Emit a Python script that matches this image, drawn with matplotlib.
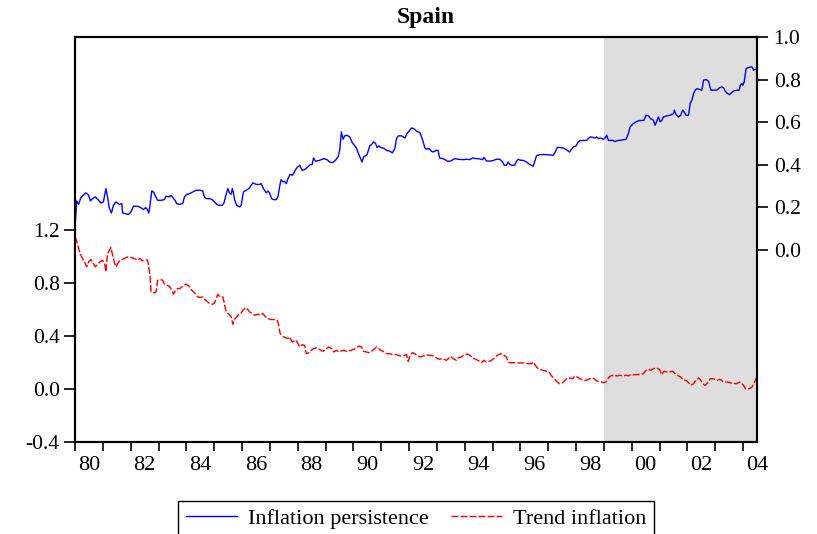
import numpy as np
import matplotlib
matplotlib.use('Agg')
import matplotlib.pyplot as plt

plt.rcParams['font.family'] = ['Liberation Serif', 'DejaVu Serif']
plt.rcParams['axes.unicode_minus'] = False

# inflation persistence (right axis), decimal years
persist_t = [1980.01, 1980.06, 1980.13, 1980.21, 1980.39, 1980.49, 1980.55, 1980.63, 1980.73, 1980.85, 1980.93,
             1981.02, 1981.11, 1981.17, 1981.23, 1981.31, 1981.38, 1981.47, 1981.59, 1981.68, 1981.71, 1981.81, 1981.92,
             1982.01, 1982.10, 1982.25, 1982.37, 1982.46, 1982.53, 1982.58, 1982.65, 1982.67, 1982.76, 1982.82, 1982.89, 1982.97,
             1983.09, 1983.21, 1983.27, 1983.39, 1983.45, 1983.51, 1983.61, 1983.65, 1983.75, 1983.87, 1983.93,
             1984.02, 1984.11, 1984.23, 1984.35, 1984.50, 1984.59, 1984.65, 1984.71, 1984.83, 1984.93,
             1985.01, 1985.09, 1985.17, 1985.29, 1985.35, 1985.43, 1985.49, 1985.55, 1985.61, 1985.65, 1985.69, 1985.74, 1985.81, 1985.91, 1985.97,
             1986.05, 1986.15, 1986.25, 1986.33, 1986.39, 1986.51, 1986.61, 1986.69, 1986.77, 1986.87, 1986.93, 1986.99,
             1987.06, 1987.13, 1987.23, 1987.29, 1987.35, 1987.40, 1987.47, 1987.53, 1987.59, 1987.65, 1987.73, 1987.81, 1987.85, 1987.91, 1987.98,
             1988.07, 1988.16, 1988.25, 1988.37, 1988.45, 1988.52, 1988.57, 1988.64, 1988.79, 1988.93,
             1989.05, 1989.15, 1989.24, 1989.33, 1989.45, 1989.51, 1989.57, 1989.63, 1989.69, 1989.77, 1989.87, 1989.96,
             1990.11, 1990.17, 1990.25, 1990.31, 1990.37, 1990.49, 1990.59, 1990.65, 1990.73, 1990.80, 1990.85, 1990.92, 1990.98,
             1991.07, 1991.19, 1991.31, 1991.40, 1991.49, 1991.55, 1991.61, 1991.73, 1991.85, 1991.93,
             1992.00, 1992.09, 1992.17, 1992.27, 1992.39, 1992.48, 1992.57, 1992.62, 1992.72, 1992.80, 1992.86, 1992.98,
             1993.04, 1993.10, 1993.20, 1993.28, 1993.37, 1993.49, 1993.64, 1993.76, 1993.94,
             1994.06, 1994.18, 1994.28, 1994.42, 1994.54, 1994.64, 1994.69, 1994.78, 1994.90,
             1995.02, 1995.14, 1995.26, 1995.36, 1995.42, 1995.50, 1995.56, 1995.62, 1995.68, 1995.80, 1995.86, 1995.92,
             1996.01, 1996.10, 1996.22, 1996.34, 1996.46, 1996.58, 1996.70, 1996.88,
             1997.18, 1997.24, 1997.33, 1997.42, 1997.54, 1997.66, 1997.76, 1997.84, 1997.90,
             1998.00, 1998.08, 1998.14, 1998.26, 1998.38, 1998.50, 1998.60, 1998.68, 1998.74, 1998.80, 1998.88, 1998.98,
             1999.04, 1999.10, 1999.16, 1999.22, 1999.32, 1999.40, 1999.48, 1999.58, 1999.70, 1999.80, 1999.88, 1999.94,
             2000.06, 2000.15, 2000.27, 2000.44, 2000.51, 2000.60, 2000.68, 2000.78, 2000.84, 2000.90, 2000.96,
             2001.02, 2001.08, 2001.14, 2001.26, 2001.38, 2001.50, 2001.53, 2001.59, 2001.68, 2001.76, 2001.83, 2001.88, 2001.95,
             2002.04, 2002.10, 2002.16, 2002.22, 2002.28, 2002.34, 2002.52, 2002.58, 2002.67, 2002.76, 2002.84, 2002.94,
             2003.06, 2003.15, 2003.24, 2003.30, 2003.36, 2003.44, 2003.51, 2003.60, 2003.66, 2003.78, 2003.86, 2003.90, 2003.96, 2003.99,
             2004.04, 2004.11, 2004.26, 2004.32, 2004.38, 2004.44, 2004.50]
persist_v = [0.122, 0.229, 0.213, 0.245, 0.267, 0.256, 0.229, 0.240, 0.248, 0.232, 0.219,
             0.224, 0.287, 0.248, 0.197, 0.172, 0.208, 0.224, 0.213, 0.216, 0.172, 0.169, 0.165,
             0.177, 0.204, 0.204, 0.197, 0.188, 0.197, 0.193, 0.172, 0.185, 0.276, 0.271, 0.251, 0.232,
             0.232, 0.235, 0.251, 0.248, 0.256, 0.245, 0.229, 0.216, 0.213, 0.216, 0.248,
             0.260, 0.263, 0.271, 0.279, 0.279, 0.276, 0.248, 0.240, 0.240, 0.235,
             0.224, 0.213, 0.208, 0.208, 0.219, 0.260, 0.287, 0.267, 0.260, 0.287, 0.267, 0.232, 0.208, 0.201, 0.208,
             0.271, 0.279, 0.287, 0.303, 0.314, 0.307, 0.306, 0.310, 0.287, 0.267, 0.276, 0.267,
             0.240, 0.235, 0.235, 0.248, 0.295, 0.329, 0.318, 0.321, 0.310, 0.334, 0.354, 0.350, 0.357, 0.373, 0.386,
             0.397, 0.373, 0.376, 0.389, 0.400, 0.400, 0.431, 0.416, 0.420, 0.428,
             0.423, 0.412, 0.409, 0.416, 0.436, 0.467, 0.554, 0.519, 0.535, 0.538, 0.530, 0.503,
             0.478, 0.456, 0.431, 0.412, 0.436, 0.447, 0.488, 0.494, 0.507, 0.499, 0.480, 0.488, 0.480,
             0.478, 0.467, 0.463, 0.455, 0.475, 0.522, 0.535, 0.535, 0.525, 0.546,
             0.557, 0.572, 0.569, 0.557, 0.550, 0.519, 0.478, 0.472, 0.475, 0.463, 0.459, 0.467,
             0.467, 0.431, 0.428, 0.425, 0.416, 0.416, 0.428, 0.425, 0.423,
             0.425, 0.423, 0.431, 0.428, 0.427, 0.423, 0.434, 0.417, 0.416,
             0.419, 0.425, 0.425, 0.412, 0.397, 0.397, 0.412, 0.400, 0.397, 0.397, 0.416, 0.425,
             0.420, 0.420, 0.412, 0.400, 0.392, 0.441, 0.447, 0.447,
             0.444, 0.456, 0.481, 0.480, 0.478, 0.469, 0.459, 0.472, 0.483,
             0.488, 0.507, 0.513, 0.513, 0.514, 0.530, 0.528, 0.525, 0.530, 0.522, 0.525, 0.519,
             0.525, 0.538, 0.514, 0.513, 0.514, 0.508, 0.513, 0.514, 0.517, 0.519, 0.546, 0.577,
             0.593, 0.601, 0.607, 0.608, 0.632, 0.629, 0.616, 0.608, 0.585, 0.604, 0.624,
             0.601, 0.608, 0.624, 0.629, 0.632, 0.640, 0.656, 0.635, 0.624, 0.632, 0.656, 0.648, 0.632,
             0.632, 0.687, 0.703, 0.734, 0.750, 0.757, 0.750, 0.797, 0.800, 0.792, 0.750, 0.750,
             0.750, 0.761, 0.765, 0.761, 0.745, 0.734, 0.729, 0.739, 0.746, 0.750, 0.750, 0.773, 0.781, 0.773,
             0.789, 0.852, 0.859, 0.859, 0.844, 0.848, 0.848]

# trend inflation (left axis)
trend_t = [1980.01, 1980.09, 1980.18, 1980.27, 1980.37, 1980.42, 1980.49, 1980.57, 1980.66, 1980.73, 1980.81, 1980.90, 1980.99,
           1981.07, 1981.11, 1981.17, 1981.23, 1981.29, 1981.35, 1981.41, 1981.47, 1981.57, 1981.65, 1981.77, 1981.89,
           1982.01, 1982.13, 1982.25, 1982.34, 1982.41, 1982.49, 1982.61, 1982.65, 1982.70, 1982.73, 1982.85, 1982.91, 1982.97,
           1983.06, 1983.15, 1983.21, 1983.30, 1983.39, 1983.45, 1983.54, 1983.61, 1983.69, 1983.77, 1983.87, 1983.99,
           1984.09, 1984.17, 1984.26, 1984.33, 1984.41, 1984.50, 1984.59, 1984.69, 1984.77, 1984.85, 1984.95,
           1985.01, 1985.07, 1985.13, 1985.21, 1985.31, 1985.37, 1985.43, 1985.53, 1985.61, 1985.67, 1985.73, 1985.81, 1985.89, 1985.97,
           1986.03, 1986.13, 1986.21, 1986.27, 1986.37, 1986.45, 1986.57, 1986.65, 1986.75, 1986.85, 1986.93,
           1987.05, 1987.17, 1987.25, 1987.29, 1987.37, 1987.47, 1987.56, 1987.65, 1987.71, 1987.80, 1987.95,
           1988.07, 1988.16, 1988.25, 1988.31, 1988.40, 1988.49, 1988.57, 1988.67, 1988.79, 1988.91,
           1989.03, 1989.12, 1989.21, 1989.29, 1989.39, 1989.48, 1989.57, 1989.65, 1989.75, 1989.87, 1989.99,
           1990.11, 1990.20, 1990.29, 1990.37, 1990.47, 1990.56, 1990.65, 1990.77, 1990.83, 1990.92, 1990.97,
           1991.07, 1991.19, 1991.31, 1991.43, 1991.55, 1991.67, 1991.79, 1991.91, 1991.97,
           1992.03, 1992.12, 1992.21, 1992.29, 1992.39, 1992.51, 1992.62, 1992.74, 1992.87, 1992.98,
           1993.10, 1993.20, 1993.34, 1993.44, 1993.49, 1993.58, 1993.70, 1993.76, 1993.88,
           1994.00, 1994.09, 1994.18, 1994.30, 1994.42, 1994.54, 1994.60, 1994.69, 1994.78, 1994.88, 1994.96,
           1995.05, 1995.14, 1995.24, 1995.32, 1995.38, 1995.44, 1995.50, 1995.56, 1995.62, 1995.74, 1995.86, 1995.98,
           1996.10, 1996.22, 1996.34, 1996.40, 1996.46, 1996.52, 1996.61, 1996.70, 1996.82, 1996.94,
           1997.04, 1997.12, 1997.20, 1997.30, 1997.40, 1997.52, 1997.60, 1997.68, 1997.78, 1997.88, 1997.96,
           1998.04, 1998.14, 1998.24, 1998.36, 1998.50, 1998.60, 1998.68, 1998.76, 1998.86, 1998.98,
           1999.08, 1999.16, 1999.24, 1999.36, 1999.48, 1999.58, 1999.70, 1999.80, 1999.88, 1999.96,
           2000.06, 2000.18, 2000.30, 2000.42, 2000.51, 2000.60, 2000.68, 2000.78, 2000.90, 2000.99,
           2001.08, 2001.16, 2001.26, 2001.35, 2001.47, 2001.56, 2001.68, 2001.76, 2001.86, 2001.95,
           2002.04, 2002.12, 2002.22, 2002.31, 2002.40, 2002.46, 2002.55, 2002.64, 2002.72, 2002.82, 2002.94,
           2003.06, 2003.18, 2003.27, 2003.36, 2003.44, 2003.54, 2003.66, 2003.78, 2003.87, 2003.96,
           2004.02, 2004.08, 2004.14, 2004.23, 2004.32, 2004.38, 2004.44, 2004.50]
trend_v = [1.150, 1.094, 1.024, 0.986, 0.948, 0.923, 0.961, 0.978, 0.948, 0.923, 0.943, 0.961, 0.973,
           0.943, 0.885, 1.024, 1.044, 1.069, 1.011, 0.961, 0.923, 0.961, 0.973, 0.986, 0.998,
           0.993, 0.986, 0.973, 0.986, 0.968, 0.978, 0.973, 0.923, 0.847, 0.734, 0.726, 0.734, 0.822,
           0.827, 0.822, 0.792, 0.784, 0.777, 0.759, 0.716, 0.746, 0.759, 0.759, 0.777, 0.792,
           0.779, 0.751, 0.734, 0.716, 0.696, 0.691, 0.696, 0.671, 0.658, 0.645, 0.640,
           0.650, 0.683, 0.716, 0.696, 0.696, 0.645, 0.582, 0.565, 0.545, 0.489, 0.527, 0.545, 0.565, 0.575,
           0.595, 0.615, 0.600, 0.582, 0.570, 0.557, 0.565, 0.557, 0.570, 0.545, 0.532,
           0.525, 0.525, 0.525, 0.507, 0.419, 0.398, 0.388, 0.381, 0.393, 0.356, 0.368,
           0.318, 0.335, 0.330, 0.267, 0.275, 0.293, 0.305, 0.310, 0.298, 0.285,
           0.305, 0.318, 0.305, 0.280, 0.293, 0.280, 0.288, 0.293, 0.285, 0.290, 0.298,
           0.310, 0.325, 0.318, 0.285, 0.280, 0.275, 0.285, 0.305, 0.318, 0.305, 0.293,
           0.285, 0.267, 0.267, 0.260, 0.260, 0.250, 0.250, 0.260, 0.209,
           0.250, 0.275, 0.267, 0.255, 0.242, 0.250, 0.255, 0.255, 0.250, 0.235,
           0.225, 0.230, 0.217, 0.235, 0.247, 0.230, 0.217, 0.235, 0.242,
           0.260, 0.265, 0.255, 0.235, 0.222, 0.209, 0.199, 0.217, 0.204, 0.209, 0.217,
           0.230, 0.250, 0.262, 0.267, 0.260, 0.250, 0.242, 0.204, 0.199, 0.199, 0.199, 0.197,
           0.197, 0.192, 0.192, 0.192, 0.204, 0.184, 0.159, 0.149, 0.141, 0.134,
           0.124, 0.099, 0.083, 0.058, 0.041, 0.048, 0.066, 0.083, 0.083, 0.078, 0.099,
           0.091, 0.078, 0.066, 0.066, 0.078, 0.083, 0.073, 0.058, 0.058, 0.048,
           0.053, 0.083, 0.099, 0.104, 0.099, 0.104, 0.099, 0.104, 0.099, 0.109,
           0.109, 0.109, 0.111, 0.116, 0.141, 0.149, 0.141, 0.154, 0.159, 0.149,
           0.109, 0.134, 0.129, 0.129, 0.134, 0.116, 0.099, 0.091, 0.066, 0.066,
           0.048, 0.028, 0.041, 0.066, 0.083, 0.073, 0.041, 0.028, 0.048, 0.078, 0.078,
           0.066, 0.073, 0.058, 0.053, 0.053, 0.048, 0.041, 0.041, 0.053, 0.041,
           0.028, 0.003, -0.002, 0.003, 0.015, 0.041, 0.066, 0.091]

year_labels = ['80', '82', '84', '86', '88', '90', '92', '94', '96', '98', '00', '02', '04']
left_ticks = [-0.4, 0.0, 0.4, 0.8, 1.2]
right_ticks = [0.0, 0.2, 0.4, 0.6, 0.8, 1.0]
emu_start, sample_end = 1999.0, 2004.5

fig = plt.figure(figsize=(8.17, 5.34), dpi=100)
ax = fig.add_axes([75/817, 1-442/534, 682/817, 405/534])
ax2 = ax.twinx()

ax.axvspan(emu_start, sample_end, color='#dedede', lw=0, zorder=0)
l_trend, = ax.plot(trend_t, trend_v, color='red', lw=1.0, ls=(0, (5, 1.5)))
l_pers, = ax2.plot(persist_t, persist_v, color='blue', lw=1.0)

ax.set_xlim(1980, sample_end)
ax.set_ylim(-0.4, 2.659)
ax2.set_ylim(-0.905, 1.0)

ax.set_xticks(np.arange(1980, 2005))
ax.set_xticklabels([])
ax.set_xticks([1980.5 + 2*i for i in range(len(year_labels))], minor=True)
ax.set_xticklabels(year_labels, minor=True)
ax.tick_params(axis='x', which='major', direction='out', length=6.5, width=1.2)
ax.tick_params(axis='x', which='minor', length=0, pad=10, labelsize=16)

ax.set_yticks(left_ticks)
ax.set_yticklabels(['%.1f' % v for v in left_ticks])
ax.tick_params(axis='y', direction='out', length=8, width=1.2, pad=3, labelsize=15.5)
ax2.set_yticks(right_ticks)
ax2.set_yticklabels(['%.1f' % v for v in right_ticks])
ax2.tick_params(axis='y', direction='out', length=8, width=1.2, pad=4, labelsize=15.5)

for a in (ax, ax2):
    for s in a.spines.values():
        s.set_linewidth(1.5)

fig.text(426/817, 1-17/534, 'Spain', ha='center', va='center', fontsize=17, fontweight='bold')

leg = fig.legend([l_pers, l_trend], ['Inflation persistence', 'Trend inflation'],
                 loc='upper center', bbox_to_anchor=(416/817, 1-501/534), ncol=2,
                 fancybox=False, edgecolor='black', framealpha=1, fontsize=16,
                 handlelength=2.3, handletextpad=0.5, columnspacing=1.0, borderpad=0.32,
                 borderaxespad=0)
leg.get_frame().set_linewidth(1.0)

fig.savefig('out.png', dpi=100)
